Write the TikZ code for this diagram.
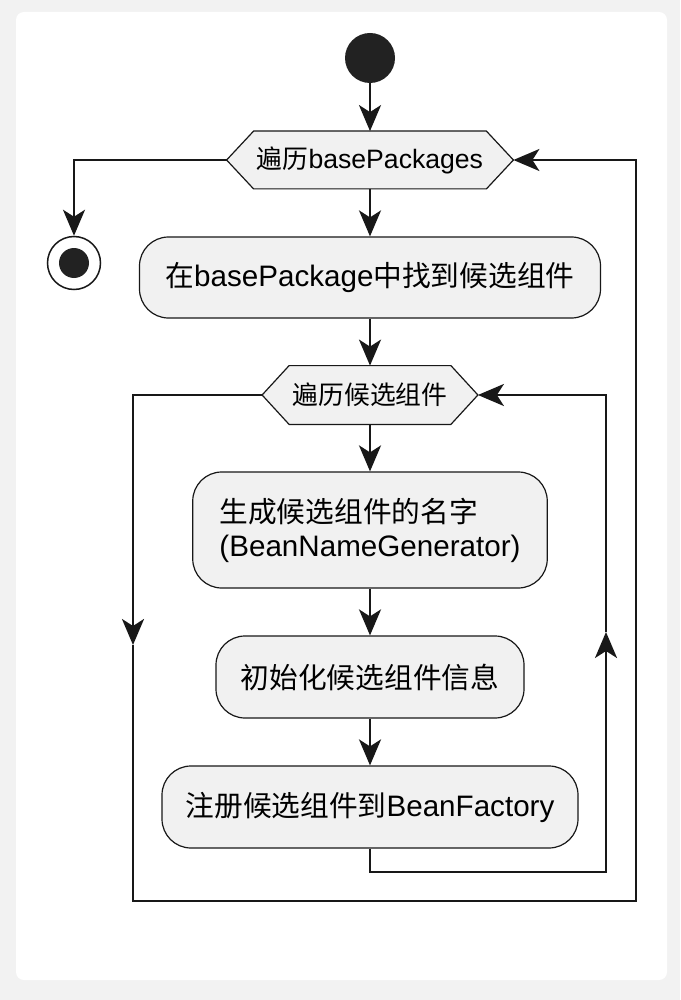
\documentclass[tikz,border=0pt]{standalone}
\usepackage{fontspec}
\setmainfont{Liberation Sans}
\newfontfamily\cjk{Noto Sans CJK SC}[Scale=0.97]
\newcommand{\C}[1]{{\cjk #1}}
\usetikzlibrary{arrows.meta}
\definecolor{outerbg}{HTML}{F2F2F2}
\definecolor{boxfill}{HTML}{F1F1F1}
\definecolor{ink}{HTML}{181818}
\definecolor{dot}{HTML}{222222}
\pgfdeclarelayer{bg}
\pgfsetlayers{bg,main}
\tikzset{
  stepbox/.style={rectangle, rounded corners=14.5pt, draw=ink, line width=0.6pt, fill=boxfill,
    font=\fontsize{14.8pt}{17pt}\selectfont, inner sep=0pt, align=center},
  hexnode/.style={rectangle, inner sep=0pt, font=\fontsize{13.3pt}{15pt}\selectfont},
  hexline/.style={draw=ink, line width=0.6pt, fill=boxfill},
  conn/.style={draw=ink, line width=1.15pt},
  arr/.style={conn, -{Stealth[length=13pt,width=11pt,inset=3.5pt]}},
}
\begin{document}
\begin{tikzpicture}[x=0.5pt,y=-0.5pt]
\useasboundingbox (0,0) rectangle (680,1000);
\begin{pgfonlayer}{bg}
  \fill[outerbg] (0,0) rectangle (680,1000);
  \fill[white, rounded corners=4pt] (16,12) rectangle (667,980);
\end{pgfonlayer}

% nodes
\node[circle, fill=dot, minimum size=25pt, inner sep=0pt] (start) at (370,58) {};
\node[hexnode, minimum width=143pt, minimum height=28.5pt] (h1) at (370,160) {\C{遍历}basePackages};
\node[circle, draw=ink, line width=0.75pt, fill=white, minimum size=26.5pt, inner sep=0pt,
  path picture={\fill[dot] (path picture bounding box.center) circle (7.5pt);}] (stop) at (74,263) {};
\node[stepbox, minimum width=230.5pt, minimum height=40.5pt] (b1) at (370,277.5) {\C{在}basePackage\C{中找到候选组件}};
\node[hexnode, minimum width=107.5pt, minimum height=29pt] (h2) at (370,395) {\C{遍历候选组件}};
\node[stepbox, align=left, minimum width=177.25pt, minimum height=58pt] (b2) at (370,530) {\C{生成候选组件的名字}\\(BeanNameGenerator)};
\node[stepbox, minimum width=154pt, minimum height=41pt] (b3) at (370,677) {\C{初始化候选组件信息}};
\node[stepbox, minimum width=208pt, minimum height=41pt] (b4) at (370,807) {\C{注册候选组件到}BeanFactory};

% hexagon outlines behind the texts
\begin{pgfonlayer}{bg}
  \foreach \h in {h1,h2} {
    \path[hexline] (\h.west) -- ([xshift=13.5pt]\h.north west) -- ([xshift=-13.5pt]\h.north east)
      -- (\h.east) -- ([xshift=-13.5pt]\h.south east) -- ([xshift=13.5pt]\h.south west) -- cycle;
  }
\end{pgfonlayer}

% routing points
\coordinate (L1) at (133,395);
\coordinate (L2) at (133,645);
\coordinate (L3) at (133,901);
\coordinate (R3) at (636,901);
\coordinate (R1) at (636,160);
\coordinate (Q2) at (606,872);
\coordinate (Q3) at (606,632);
\coordinate (Q4) at (606,395);

% connectors
\draw[arr] (start) -- (h1);
\draw[arr] (h1) -- (b1);
\draw[arr] (h1.west) -| (stop);
\draw[arr] (b1) -- (h2);
\draw[arr] (h2) -- (b2);
\draw[arr] (b2) -- (b3);
\draw[arr] (b3) -- (b4);
\draw[arr] (b4.south) |- (Q2) -- (Q3);
\draw[arr] (Q3) -- (Q4) -- (h2.east);
\draw[arr] (h2.west) -- (L1) -- (L2);
\draw[arr] (L2) -- (L3) -- (R3) -- (R1) -- (h1.east);
\end{tikzpicture}
\end{document}
